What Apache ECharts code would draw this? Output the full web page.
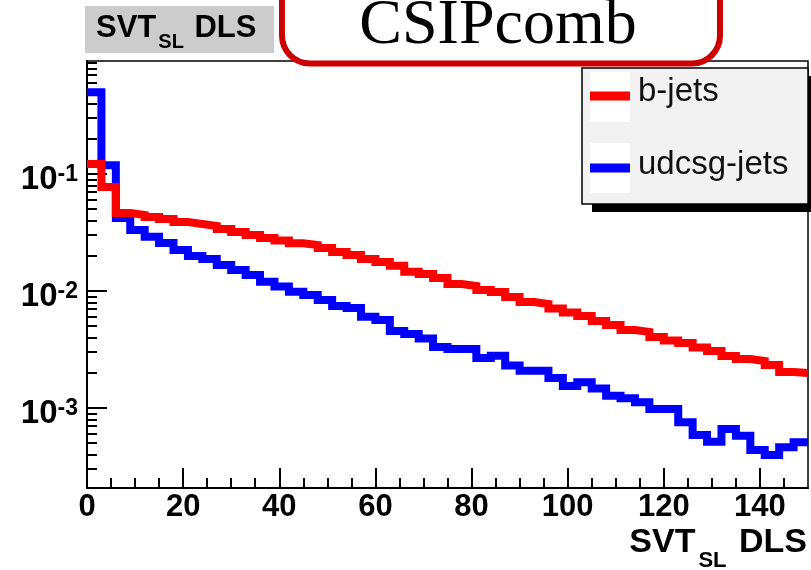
<!DOCTYPE html>
<html><head><meta charset="utf-8">
<script src="https://cdn.jsdelivr.net/npm/echarts@6/dist/echarts.min.js"></script>
<style>html,body{margin:0;padding:0;background:#fff}#c{width:811px;height:570px}</style>
</head><body><div id="c"></div>
<script>
// bin edges of the SVT_SL DLS histogram (50 bins, 0..150)
const binEdges = [0,3,6,9,12,15,18,21,24,27,30,33,36,39,42,45,48,51,54,57,60,63,66,69,72,75,78,81,84,87,90,93,96,99,102,105,108,111,114,117,120,123,126,129,132,135,138,141,144,147,150];
// normalised bin contents
const bJets = [0.1218,0.0774,0.0464,0.0447,0.0429,0.0412,0.0389,0.0374,0.0360,0.0339,
  0.0319,0.0301,0.0284,0.0270,0.0256,0.0247,0.0233,0.0216,0.0203,0.0188,
  0.0177,0.0164,0.0146,0.0140,0.0129,0.01148,0.01104,0.01021,0.00980,0.00889,
  0.00805,0.00774,0.00710,0.00655,0.00611,0.00554,0.00512,0.00464,0.00447,0.00405,
  0.00378,0.00360,0.00329,0.00307,0.00278,0.00262,0.00252,0.00233,0.00203,0.00199];
const udcsgJets = [0.499,0.119,0.0421,0.0332,0.0291,0.0257,0.0224,0.0199,0.0188,0.0167,
  0.0151,0.0137,0.0120,0.0109,0.00986,0.00924,0.00838,0.00745,0.00716,0.00603,
  0.00565,0.00455,0.00429,0.00392,0.00332,0.00319,0.00319,0.00267,0.00280,0.00231,
  0.00208,0.00208,0.00180,0.00154,0.00166,0.00147,0.00127,0.00121,0.00112,0.000980,
  0.000980,0.000755,0.000588,0.000515,0.000662,0.000580,0.000438,0.000396,0.000461,0.000509];
const seriesNames = ['b-jets','udcsg-jets'];
const xMajorTicks = [0,20,40,60,80,100,120,140];
const xMinorTicks = [5,10,15,25,30,35,45,50,55,65,70,75,85,90,95,105,110,115,125,130,135,145];
const yDecades = [0.001,0.01,0.1];
const yMinorTicks = [0.0003,0.0004,0.0005,0.0006,0.0007,0.0008,0.0009,
  0.002,0.003,0.004,0.005,0.006,0.007,0.008,0.009,
  0.02,0.03,0.04,0.05,0.06,0.07,0.08,0.09,
  0.2,0.3,0.4,0.5,0.6,0.7,0.8,0.9];
const yRange = [0.000207, 0.925];

const toSteps = vals => binEdges.map((x, i) => [x, vals[Math.min(i, vals.length - 1)]]);
const FF = '"Liberation Sans", Arial, Helvetica, sans-serif';

const chart = echarts.init(document.getElementById('c'));
const axisBase = {min: 0, max: 150, gridIndex: 0, position: 'bottom', splitLine: {show: false}};
chart.setOption({
  animation: false,
  backgroundColor: '#fff',
  grid: {left: 87, right: 3, top: 61, bottom: 82, show: true, borderColor: '#000', borderWidth: 1.5, backgroundColor: 'transparent'},
  xAxis: [
    Object.assign({type: 'value'}, axisBase, {
      axisLine: {lineStyle: {color: '#000', width: 2}},
      axisTick: {inside: true, length: 20, customValues: xMajorTicks, lineStyle: {color: '#000', width: 2}},
      axisLabel: {customValues: xMajorTicks, fontSize: 31, fontWeight: 'bold', fontFamily: FF, color: '#000', margin: 4}
    }),
    Object.assign({type: 'value'}, axisBase, {
      axisLine: {show: false},
      axisTick: {inside: true, length: 10, customValues: xMinorTicks, lineStyle: {color: '#000', width: 2}},
      axisLabel: {show: false}
    })
  ],
  yAxis: [
    {type: 'log', logBase: 10, min: yRange[0], max: yRange[1], position: 'left', splitLine: {show: false},
      axisLine: {lineStyle: {color: '#000', width: 2}},
      axisTick: {inside: true, length: 20, customValues: yDecades, lineStyle: {color: '#000', width: 2}},
      axisLabel: {customValues: yDecades, margin: 9,
        formatter: v => '{b|10}{s|' + Math.round(Math.log10(v)) + '}',
        rich: {
          b: {fontSize: 33, fontWeight: 'bold', fontFamily: FF, color: '#000', padding: [12, 0, 0, 0]},
          s: {fontSize: 23, fontWeight: 'bold', fontFamily: FF, color: '#000', verticalAlign: 'top', padding: [12, 0, 0, 0]}
        }}
    },
    {type: 'log', logBase: 10, min: yRange[0], max: yRange[1], position: 'left', splitLine: {show: false},
      axisLine: {show: false},
      axisTick: {inside: true, length: 10, customValues: yMinorTicks, lineStyle: {color: '#000', width: 2}},
      axisLabel: {show: false}
    }
  ],
  series: [
    {name: seriesNames[1], type: 'line', step: 'end', symbol: 'none', xAxisIndex: 0, yAxisIndex: 0,
      data: toSteps(udcsgJets), lineStyle: {color: '#0000ff', width: 8, join: 'miter', cap: 'butt'}, itemStyle: {color: '#0000ff'}},
    {name: seriesNames[0], type: 'line', step: 'end', symbol: 'none', xAxisIndex: 0, yAxisIndex: 0,
      data: toSteps(bJets), lineStyle: {color: '#ff0000', width: 8, join: 'miter', cap: 'butt'}, itemStyle: {color: '#ff0000'}}
  ],
  graphic: [
    // histogram title box
    {type: 'rect', z: 100, shape: {x: 85, y: 6, width: 189, height: 47}, style: {fill: '#cccccc'}},
    {type: 'text', z: 101, x: 96, y: 13, style: {
      text: '{m|SVT}{s|SL}{m| DLS}', rich: {
        m: {fontSize: 31, fontWeight: 'bold', fontFamily: FF, fill: '#000', verticalAlign: 'top', lineHeight: 32},
        s: {fontSize: 20, fontWeight: 'bold', fontFamily: FF, fill: '#000', verticalAlign: 'top', lineHeight: 20, padding: [19, 2, 0, 2]}
      }}},
    // CSIPcomb rounded box
    {type: 'rect', z: 110, shape: {x: 282, y: -40, width: 438, height: 103.5, r: 28},
      style: {fill: '#fff', stroke: '#cc0000', lineWidth: 6}},
    {type: 'text', z: 111, x: 498, y: 26, style: {text: 'CSIPcomb', fontSize: 64, fontFamily: '"Liberation Serif", "Times New Roman", serif',
      fill: '#000', align: 'center', verticalAlign: 'middle'}},
    // legend
    {type: 'rect', z: 120, shape: {x: 592, y: 76, width: 226, height: 136}, style: {fill: '#000'}},
    {type: 'rect', z: 121, shape: {x: 582, y: 68, width: 226, height: 136}, style: {fill: '#f2f2f2', stroke: '#000', lineWidth: 1.5}},
    {type: 'rect', z: 122, shape: {x: 590, y: 72, width: 40, height: 50}, style: {fill: '#fff'}},
    {type: 'rect', z: 122, shape: {x: 590, y: 143, width: 40, height: 50}, style: {fill: '#fff'}},
    {type: 'line', z: 123, shape: {x1: 590, y1: 96, x2: 630, y2: 96}, style: {stroke: '#ff0000', lineWidth: 9}},
    {type: 'line', z: 123, shape: {x1: 590, y1: 168, x2: 630, y2: 168}, style: {stroke: '#0000ff', lineWidth: 9}},
    {type: 'text', z: 124, x: 638, y: 92, style: {text: seriesNames[0], fontSize: 33, fontFamily: FF, fill: '#111', verticalAlign: 'middle'}},
    {type: 'text', z: 124, x: 638, y: 165, style: {text: seriesNames[1], fontSize: 33, fontFamily: FF, fill: '#111', verticalAlign: 'middle'}},
    // x-axis title
    {type: 'text', z: 100, x: 807, y: 526, style: {
      text: '{m|SVT}{s|SL}{m| DLS}', align: 'right', rich: {
        m: {fontSize: 34, fontWeight: 'bold', fontFamily: FF, fill: '#000', verticalAlign: 'top', lineHeight: 34},
        s: {fontSize: 22, fontWeight: 'bold', fontFamily: FF, fill: '#000', verticalAlign: 'top', lineHeight: 22, padding: [24, 3, 0, 3]}
      }}}
  ]
});
</script></body></html>
